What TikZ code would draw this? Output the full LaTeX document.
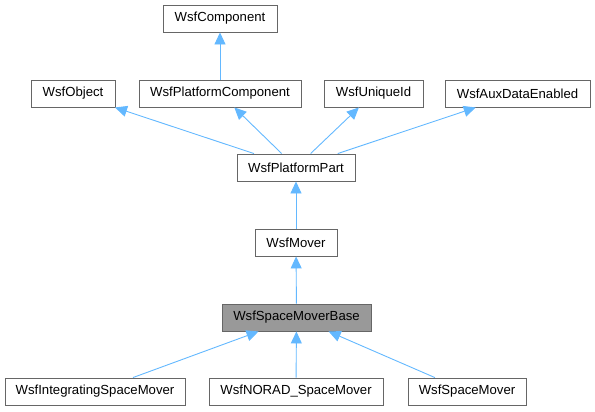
\documentclass[tikz,border=0pt]{standalone}
\usepackage{fontspec}
\setmainfont{Liberation Sans}
\usetikzlibrary{arrows.meta,positioning}

\begin{document}
\begin{tikzpicture}[
    x=1bp, y=-1bp,
    font=\fontsize{13.2}{15}\selectfont,
    cls/.style={rectangle, draw=black!60, fill=white, line width=0.9bp, minimum height=27bp, inner sep=0pt},
    current/.style={cls, fill=black!40},
    arrow/.style={-{Triangle[length=12bp,width=11bp]}, draw={rgb,255:red,99;green,184;blue,255}, line width=0.9bp}
]
\useasboundingbox (0,0) rectangle (595,411);

% Bases
\node[cls, minimum width=114bp] (comp) at (220,18.5) {WsfComponent};
\node[cls, minimum width=84bp] (obj) at (73,93.5) {WsfObject};
\node[cls, minimum width=162bp] (pcomp) at (220,93.5) {WsfPlatformComponent};
\node[cls, minimum width=99bp] (uid) at (373.5,93.5) {WsfUniqueId};
\node[cls, minimum width=145bp] (aux) at (517.5,93.5) {WsfAuxDataEnabled};
\node[cls, minimum width=118bp] (ppart) at (296,167.5) {WsfPlatformPart};
\node[cls, minimum width=82bp] (mover) at (296,242.5) {WsfMover};

% Current class
\node[current, minimum width=149bp] (smbase) at (296.5,317.5) {WsfSpaceMoverBase};

% Derived
\node[cls, minimum width=180bp] (integ) at (95,391.5) {WsfIntegratingSpaceMover};
\node[cls, minimum width=174bp] (norad) at (296,391.5) {WsfNORAD\_SpaceMover};
\node[cls, minimum width=118bp] (smover) at (467,391.5) {WsfSpaceMover};

% Arrows
\draw[arrow] (pcomp) -- (comp);
\draw[arrow] (ppart) -- (obj);
\draw[arrow] (ppart) -- (pcomp);
\draw[arrow] (ppart) -- (uid);
\draw[arrow] (ppart) -- (aux);
\draw[arrow] (mover) -- (ppart);
\draw[arrow] (smbase) -- (mover);
\draw[arrow] (integ) -- (smbase);
\draw[arrow] (norad) -- (smbase);
\draw[arrow] (smover) -- (smbase);

\end{tikzpicture}
\end{document}
